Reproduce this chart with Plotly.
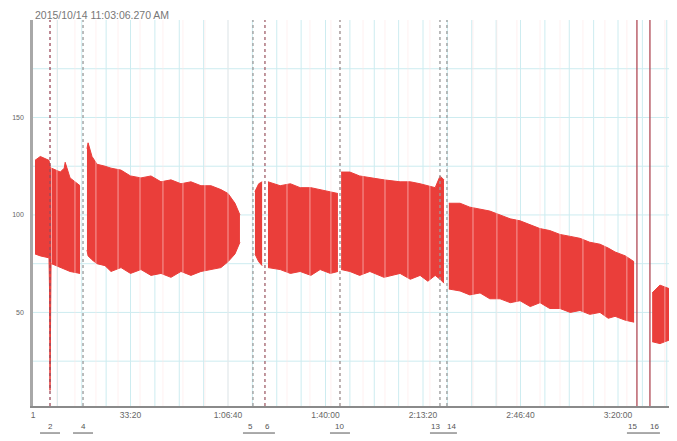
import plotly.graph_objects as go

# ---- data (time in seconds, pressure values) ----
seg_A_t = [41, 150, 328, 340, 349, 358, 370]
seg_A_hi = [128, 130, 128, 126, 125, 124, 124]
seg_A_lo = [80, 79, 78, 60, 10, 60, 75]

seg_B_t = [380, 560, 640, 660, 760, 965]
seg_B_hi = [124, 122, 124, 127, 119, 115]
seg_B_lo = [75, 73, 72, 72, 71, 70]

seg_C_t = [1107, 1130, 1210, 1313, 1477, 1600, 1805, 2000, 2215, 2420, 2625, 2830, 3035, 3240, 3445, 3650, 3855, 4000, 4143, 4245]
seg_C_hi = [134, 137, 130, 126, 125, 124, 123, 120, 119, 120, 117, 118, 116, 117, 115, 115, 113, 111, 106, 100]
seg_C_lo = [82, 79, 77, 75, 74, 71, 73, 70, 72, 69, 70, 68, 71, 69, 71, 72, 73, 76, 80, 86]

seg_D_t = [4553, 4630, 4700]
seg_D_hi = [112, 116, 117]
seg_D_lo = [80, 76, 74]

seg_E_t = [4820, 5070, 5280, 5480, 5700, 5890, 6100, 6255]
seg_E_hi = [117, 115, 116, 114, 114, 113, 112, 111]
seg_E_lo = [73, 72, 70, 71, 69, 72, 70, 71]

seg_F_t = [6320, 6500, 6700, 6910, 7200, 7530, 7740, 7940, 8100, 8250, 8350, 8430]
seg_F_hi = [122, 122, 120, 119, 118, 117, 117, 116, 115, 114, 120, 118]
seg_F_lo = [72, 71, 69, 71, 68, 70, 67, 69, 66, 69, 67, 65]

seg_G_t = [8530, 8760, 8960, 9170, 9370, 9580, 9790, 9990, 10200, 10400, 10600, 10810, 11020, 11220, 11420, 11630, 11800, 11940, 12150, 12330]
seg_G_hi = [106, 106, 104, 103, 102, 100, 98, 97, 95, 93, 92, 90, 89, 88, 86, 85, 83, 81, 79, 76]
seg_G_lo = [62, 61, 59, 60, 57, 57, 55, 56, 53, 55, 52, 52, 50, 51, 49, 50, 47, 48, 46, 45]

seg_H_t = [12700, 12860, 13070, 13210]
seg_H_hi = [60, 64, 62, 63]
seg_H_lo = [35, 34, 36, 37]

segments = [
    (seg_A_t, seg_A_hi, seg_A_lo), (seg_B_t, seg_B_hi, seg_B_lo),
    (seg_C_t, seg_C_hi, seg_C_lo), (seg_D_t, seg_D_hi, seg_D_lo),
    (seg_E_t, seg_E_hi, seg_E_lo), (seg_F_t, seg_F_hi, seg_F_lo),
    (seg_G_t, seg_G_hi, seg_G_lo), (seg_H_t, seg_H_hi, seg_H_lo),
]

# light vertical artefact stripes inside the waveform band (seconds)
stripe_times = [490, 860, 1290, 1745, 2195, 2665, 3075, 3525, 4000, 5210, 5680, 6110,
                6770, 7220, 7690, 8140, 9025, 9515, 9925, 10400, 10810, 11280, 11730, 12180, 12960]

event_times = [349, 1026, 4512, 4758, 6297, 8348, 8491, 12388, 12655]
event_labels = ["2", "4", "5", "6", "10", "13", "14", "15", "16"]
event_colors = ["#9a4a5a", "#9a9a9a", "#9a9a9a", "#a0606a", "#9a8a8a", "#9a9a9a", "#9a9a9a", "#b04a55", "#b04a55"]
event_dash = ["dot", "dot", "dot", "dot", "dot", "dot", "dot", "solid", "solid"]
event_label_anchor = ["center", "center", "right", "left", "center", "right", "left", "right", "left"]
event_groups = [[0], [1], [2, 3], [4], [5, 6], [7, 8]]

x_tickvals = [0, 2000, 4000, 6000, 8000, 10000, 12000]
x_ticktext = ["1", "33:20", "1:06:40", "1:40:00", "2:13:20", "2:46:40", "3:20:00"]
y_tickvals = [25, 50, 75, 100, 125, 150, 175]
y_ticktext = ["", "50", "", "100", "", "150", ""]

title_text = "2015/10/14 11:03:06.270 AM"

RED = "rgb(234,62,58)"
GRID = "rgb(205,236,240)"
FONT = "Liberation Sans"

fig = go.Figure()
for t, hi, lo in segments:
    fig.add_trace(go.Scatter(x=t, y=lo, mode="lines", line=dict(color=RED, width=1),
                             hoverinfo="skip", showlegend=False))
    fig.add_trace(go.Scatter(x=t, y=hi, mode="lines", line=dict(color=RED, width=1),
                             fill="tonexty", fillcolor=RED, hoverinfo="skip", showlegend=False))

shapes = []
# minor vertical grid every 500 s
for i in range(1, 27):
    shapes.append(dict(type="line", xref="x", yref="paper", x0=i * 500, x1=i * 500, y0=0, y1=1,
                       line=dict(color=GRID, width=1), layer="below"))
for v in y_tickvals:
    shapes.append(dict(type="line", xref="paper", yref="y", x0=0, x1=1, y0=v, y1=v,
                       line=dict(color=GRID, width=1), layer="below"))

for t in stripe_times:
    shapes.append(dict(type="line", xref="x", yref="paper", x0=t, x1=t, y0=0, y1=1,
                       line=dict(color="rgba(255,230,230,0.38)", width=1.5)))

for t, c, d in zip(event_times, event_colors, event_dash):
    shapes.append(dict(type="line", xref="x", yref="paper", x0=t, x1=t, y0=0, y1=1.0,
                       line=dict(color=c, width=1.3, dash=d)))

pad = 205
for g in event_groups:
    x0 = event_times[g[0]] - pad
    x1 = event_times[g[-1]] + pad
    shapes.append(dict(type="line", xref="x", yref="paper", x0=x0, x1=x1, y0=-0.07, y1=-0.07,
                       line=dict(color="#555", width=1)))

annotations = []
for t, lab, anc in zip(event_times, event_labels, event_label_anchor):
    sh = {"center": 0, "right": 1, "left": -1}[anc]
    annotations.append(dict(x=t, y=-0.054, xref="x", yref="paper", text=lab, showarrow=False,
                            xanchor=anc, xshift=sh, borderpad=0,
                            font=dict(size=8, color="#555", family=FONT), yanchor="middle"))
annotations.append(dict(x=0, y=1.0, xref="paper", yref="paper", text=title_text, showarrow=False,
                        xanchor="left", yanchor="middle", yshift=5,
                        font=dict(size=10.5, color="#777", family=FONT)))

# the page body adds an 8px offset; compensate in the figure size and margins
fig.update_layout(
    width=669, height=433,
    margin=dict(l=25, r=0, t=12, b=35, autoexpand=False),
    paper_bgcolor="white", plot_bgcolor="white",
    xaxis=dict(range=[0, 13210], tickvals=x_tickvals, ticktext=x_ticktext,
               showgrid=False, zeroline=False, showline=True, linecolor="#8a8a8a", linewidth=1.5,
               ticks="", tickfont=dict(size=8.5, color="#666", family=FONT), automargin=False),
    yaxis=dict(range=[2, 200], tickvals=y_tickvals, ticktext=y_ticktext,
               showgrid=False, zeroline=False, showline=True, linecolor="#a8a8a8", linewidth=2.5,
               ticks="", ticklabelstandoff=5,
               tickfont=dict(size=7, color="#666", family=FONT), automargin=False),
    shapes=shapes, annotations=annotations,
)

fig.write_html("out.html")
